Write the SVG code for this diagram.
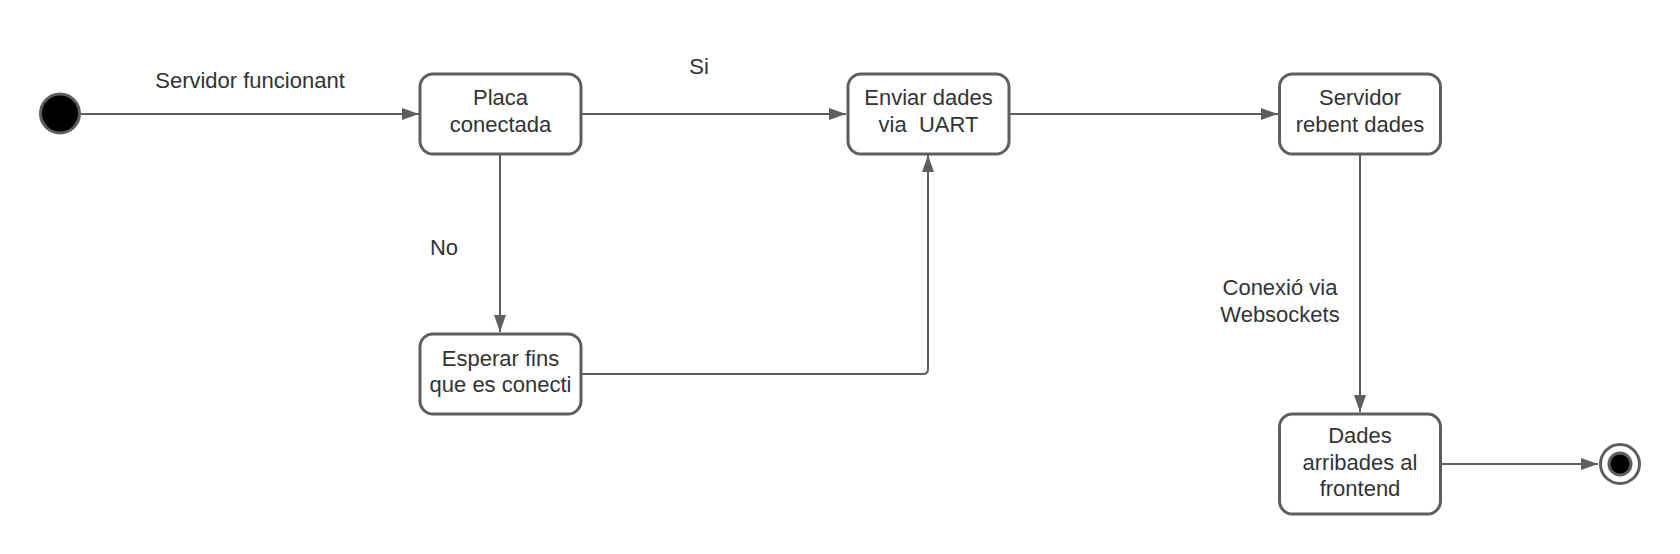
<svg xmlns="http://www.w3.org/2000/svg" width="1680" height="554" viewBox="0 0 1680 554">
  <style>
    .box { fill: #ffffff; stroke: #5e5e5e; stroke-width: 3; }
    .t { font-family: "Liberation Sans", Arial, sans-serif; font-size: 22px; fill: #333333; text-anchor: middle; white-space: pre; }
    .edge { fill: none; stroke: #5e5e5e; stroke-width: 2; marker-end: url(#arrow); }
  </style>
  <defs>
    <marker id="arrow" markerUnits="userSpaceOnUse" markerWidth="18" markerHeight="12" refX="17" refY="6" orient="auto">
      <path d="M0,0 L17,6 L0,12 z" fill="#5e5e5e"/>
    </marker>
  </defs>
  <rect width="1680" height="554" fill="#ffffff"/>

  <g id="connectors">
    <path class="edge" d="M81,114 L419,114"/>
    <path class="edge" d="M581,114 L846,114"/>
    <path class="edge" d="M1009,114 L1278,114"/>
    <path class="edge" d="M500,155 L500,332"/>
    <path class="edge" d="M581,374 L923,374 Q928,374 928,369 L928,155"/>
    <path class="edge" d="M1360,155 L1360,412"/>
    <path class="edge" d="M1441,464 L1598,464"/>
  </g>

  <g id="labels">
    <text class="t" x="250" y="88">Servidor funcionant</text>
    <text class="t" x="699" y="74">Si</text>
    <text class="t" x="444" y="255">No</text>
    <text class="t" x="1280" y="295">Conexió via</text>
    <text class="t" x="1280" y="322">Websockets</text>
  </g>

  <g id="start">
    <circle cx="60" cy="113.5" r="19.5" fill="#000000" stroke="#5e5e5e" stroke-width="3"/>
  </g>

  <g id="placa">
    <rect class="box" x="420" y="74" width="161" height="80" rx="13"/>
    <text class="t" x="500.5" y="105">Placa</text>
    <text class="t" x="500.5" y="131.5">conectada</text>
  </g>

  <g id="enviar">
    <rect class="box" x="848" y="74" width="161" height="80" rx="13"/>
    <text class="t" x="928.5" y="105">Enviar dades</text>
    <text class="t" x="928.5" y="131.5">via  UART</text>
  </g>

  <g id="servidor">
    <rect class="box" x="1279.5" y="74" width="161" height="80" rx="13"/>
    <text class="t" x="1360" y="105">Servidor</text>
    <text class="t" x="1360" y="131.5">rebent dades</text>
  </g>

  <g id="esperar">
    <rect class="box" x="420" y="334" width="161" height="80" rx="13"/>
    <text class="t" x="500.5" y="365.5">Esperar fins</text>
    <text class="t" x="500.5" y="392">que es conecti</text>
  </g>

  <g id="dades">
    <rect class="box" x="1279.5" y="414" width="161" height="100" rx="13"/>
    <text class="t" x="1360" y="443">Dades</text>
    <text class="t" x="1360" y="469.5">arribades al</text>
    <text class="t" x="1360" y="496">frontend</text>
  </g>

  <g id="end">
    <circle cx="1620" cy="464" r="19.5" fill="#ffffff" stroke="#5e5e5e" stroke-width="3"/>
    <circle cx="1620" cy="464" r="11" fill="#000000" stroke="#5e5e5e" stroke-width="3"/>
  </g>
</svg>
